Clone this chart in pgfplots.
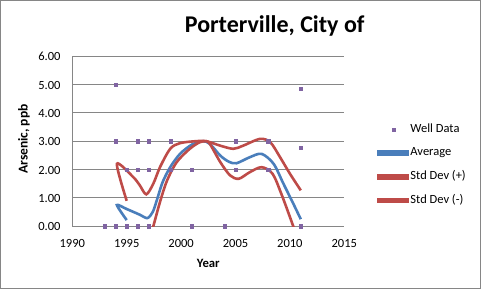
\documentclass[border=0pt]{standalone}
\usepackage{fontspec}
\setmainfont{Carlito}
\usepackage{pgfplots}
\pgfplotsset{compat=1.18}
\definecolor{welldata}{HTML}{8064A2}
\definecolor{avgblue}{HTML}{4A7EBB}
\definecolor{sdred}{HTML}{BE4B48}
\definecolor{gridgray}{HTML}{868686}
\pgfplotsset{
  scatleg/.style={legend image code/.code={\draw[##1, mark size=1.5pt] plot coordinates {(15pt,0pt)};}},
  avgleg/.style={legend image code/.code={\fill[avgblue] (0pt,-1.4pt) rectangle (30pt,1.4pt);}},
  sdleg/.style={legend image code/.code={\fill[sdred] (0pt,-1.4pt) rectangle (30pt,1.4pt);}},
}

\begin{document}
\begin{tikzpicture}[x=1pt,y=1pt]
\path[use as bounding box] (0,0) rectangle (481,289);
\draw[gridgray, line width=0.9pt] (0.5,0.5) rectangle (480.5,288.5);
\begin{axis}[
  at={(72.3pt,63pt)}, anchor=south west,
  scale only axis, width=272pt, height=169.7pt,
  xmin=1990, xmax=2015, ymin=0, ymax=6,
  xtick={1990,1995,2000,2005,2010,2015},
  ytick={0,1,2,3,4,5,6},
  axis lines=left,
  axis line style={draw=gridgray, line width=0.9pt, -},
  major tick length=0pt,
  ymajorgrids,
  grid style={draw=gridgray, line width=0.9pt},
  /pgf/number format/assume math mode=true,
  x tick label style={font=\fontsize{12.5}{14}\selectfont, anchor=base, inner sep=0pt, yshift=-21.7pt, /pgf/number format/1000 sep={}},
  y tick label style={font=\fontsize{12.5}{14}\selectfont, anchor=base east, inner sep=0pt, xshift=-11.6pt, yshift=-4.6pt,
     /pgf/number format/.cd, fixed, fixed zerofill, precision=2, /tikz/.cd},
  legend cell align=left,
  legend style={at={(axis description cs:1.119,0.3595)}, anchor=west, draw=none, fill=none,
     font=\fontsize{12.5}{14}\selectfont, row sep=11.3pt, inner sep=0pt,
     nodes={inner sep=1pt, text height=8pt, text depth=2.5pt}},
]
\addplot[only marks, mark=square*, mark size=1.6pt, color=welldata, mark options={line width=0.2pt}, scatleg]
  coordinates {
  (1993,0) (1994,0) (1994,3) (1994,5) (1995,0) (1995,2)
  (1996,0) (1996,2) (1996,3) (1997,0) (1997,2) (1997,3)
  (1999,2) (1999,3) (2001,0) (2001,2) (2004,0)
  (2005,2) (2005,3) (2008,2) (2008,3)
  (2011,0) (2011,2.78) (2011,4.87)
};
\addlegendentry{Well Data}
\addplot[smooth, color=avgblue, line width=2.6pt, no markers, avgleg] coordinates {
  (1995.0,0.21) (1994.1,0.74) (1995.0,0.60) (1996.2,0.40) (1996.9,0.28)
  (1997.4,0.50) (1997.8,0.95) (1998.3,1.55) (1999.0,2.08) (1999.9,2.55)
  (2001.0,2.88) (2002.0,3.00) (2002.65,2.90) (2003.6,2.49) (2004.4,2.27)
  (2005.1,2.22) (2006.3,2.43) (2007.4,2.55) (2008.5,2.20) (2009.4,1.50)
  (2010.3,0.80) (2011.0,0.24)
};
\addlegendentry{Average}
\addplot[smooth, color=sdred, line width=2.6pt, no markers, sdleg] coordinates {
  (1995.0,0.89) (1994.1,2.20) (1995.6,1.73) (1996.2,1.44) (1996.8,1.12)
  (1997.45,1.50) (1998.06,2.08) (1999.0,2.73) (1999.9,2.93) (2001.4,3.00)
  (2002.3,3.00) (2003.6,2.84) (2004.8,2.73) (2005.7,2.84) (2007.25,3.08)
  (2008.2,2.96) (2009.1,2.43) (2010.0,1.85) (2011.0,1.26)
};
\addlegendentry{Std Dev (+)}
\addplot[smooth, color=sdred, line width=2.6pt, no markers, sdleg] coordinates {
  (1997.0,-0.55) (1997.45,0.00) (1998.06,0.85) (1998.7,1.60) (1999.6,2.26)
  (2000.8,2.73) (2001.7,2.96) (2002.3,3.00) (2002.65,2.90) (2003.6,2.26)
  (2004.5,1.79) (2005.3,1.67) (2006.3,1.90) (2007.4,2.08) (2008.4,1.85)
  (2009.2,1.15) (2010.3,0.00) (2011.0,-0.78)
};
\addlegendentry{Std Dev (-)}
\end{axis}
\node[anchor=base, font=\fontsize{24}{28}\selectfont\bfseries] at (274.7,256.3) {Porterville, City of};
\node[anchor=base, rotate=90, font=\fontsize{13.5}{15}\selectfont\bfseries] at (27.7,150) {Arsenic, ppb};
\node[anchor=base, font=\fontsize{12.7}{15}\selectfont\bfseries] at (208.3,21.7) {Year};
\end{tikzpicture}
\end{document}
